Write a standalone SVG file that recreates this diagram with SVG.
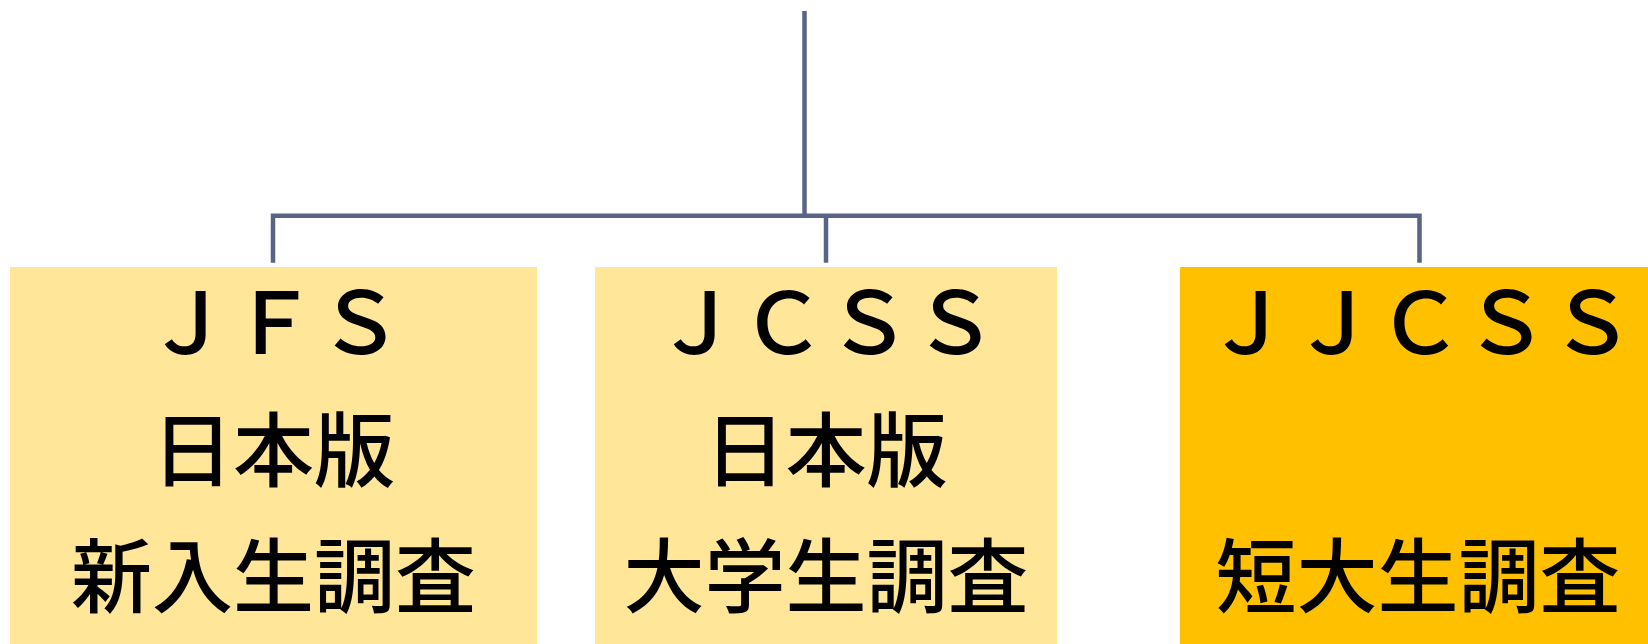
<svg xmlns="http://www.w3.org/2000/svg" width="1648" height="644" viewBox="0 0 1648 644">
<style>
.conn{stroke:#5A6485;stroke-width:4.5;fill:none;stroke-linejoin:miter}
.lt{fill:#FFE699}
.dk{fill:#FFC000}
text{font-family:"Noto Sans CJK JP","Noto Sans",sans-serif;font-size:81px;font-weight:500;fill:#000;text-anchor:middle}
.en{font-size:86px}
</style>
<rect width="1648" height="644" fill="#fff"/>
<g id="connectors">
<path class="conn" d="M804.5 11 V215.7"/>
<path class="conn" d="M273 262.7 V215.7 H1419.5 V262.7"/>
<path class="conn" d="M826 215.7 V262.7"/>
</g>
<g id="jfs">
<rect class="lt" x="10" y="267" width="527" height="377"/>
<text class="en" x="274" y="354">ＪＦＳ</text>
<text x="273.5" y="480">日本版</text>
<text x="273.5" y="606">新入生調査</text>
</g>
<g id="jcss">
<rect class="lt" x="595" y="267" width="462" height="377"/>
<text class="en" x="826" y="354">ＪＣＳＳ</text>
<text x="826" y="480">日本版</text>
<text x="826" y="606">大学生調査</text>
</g>
<g id="jjcss">
<rect class="dk" x="1180" y="267" width="468" height="377"/>
<text class="en" x="1420" y="354">ＪＪＣＳＳ</text>
<text x="1418" y="606">短大生調査</text>
</g>
</svg>
